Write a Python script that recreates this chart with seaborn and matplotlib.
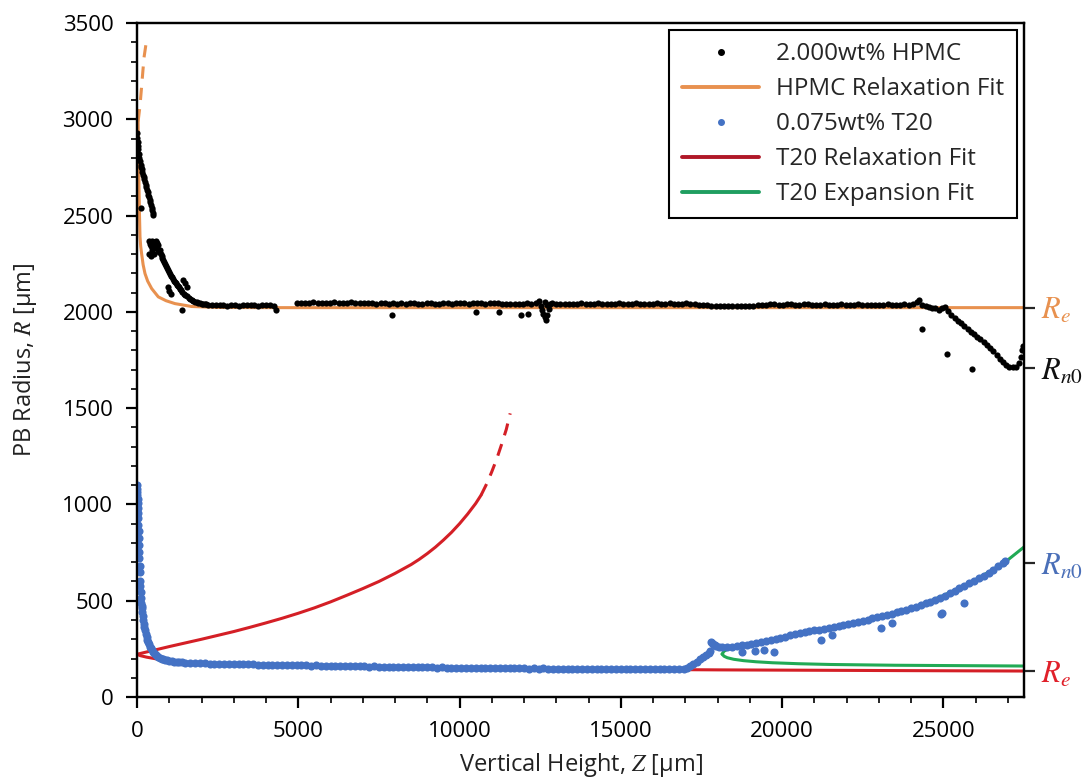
import matplotlib
matplotlib.use("Agg")
import matplotlib.pyplot as plt
from matplotlib.lines import Line2D
from matplotlib.ticker import MultipleLocator
import seaborn as sns

# ---------------- data ----------------
# 2.000wt% HPMC measured radius (z in um, R in um)
hpmc_z = [0, 10, 20, 30, 45, 60, 75, 90, 110, 130, 150, 170, 190, 210, 230, 250, 270, 290, 310, 330,
          350, 370, 390, 410, 430, 450, 470, 490, 510, 120,
          360, 380, 400, 420, 440, 460, 480, 500, 520, 540, 560, 580, 600, 620, 640, 660, 680, 700,
          730, 760, 790, 820, 850, 880, 910, 940, 970, 1000, 1030, 1060, 1090, 1120, 1150, 1180,
          1210, 1240, 1270, 1300, 1330, 1360, 1400, 1450, 1500, 1550, 1600, 1650, 1700, 1750, 1800,
          1850, 1900, 1950, 2000, 2050, 2100, 2150,
          960, 1000, 1060, 1390, 1420, 1540, 1500,
          2200, 2320, 2440, 2560, 2680, 2800, 2920, 3040, 3160, 3280, 3400, 3520, 3640, 3760, 3880,
          4000, 4120, 4240, 4320,
          4950, 5080, 5210, 5340, 5470, 5600, 5730, 5860, 5990, 6120, 6250, 6380, 6510, 6640, 6770,
          6900, 7030, 7160, 7290, 7420, 7550, 7680, 7810, 7900, 7940, 8070, 8200, 8330, 8460, 8590,
          8720, 8850, 8980, 9110, 9240, 9370, 9500, 9630, 9760, 9890, 10020, 10150, 10280, 10410,
          10520, 10540, 10670, 10800, 10930, 11060, 11190, 11220, 11320, 11450, 11580, 11710, 11840,
          11910, 11970, 12120, 12100, 12230, 12360, 12450, 12520, 12560, 12600, 12640, 12680, 12720,
          12760, 12800, 12650, 12700, 12880, 13000, 13130, 13260, 13390, 13520, 13650, 13780, 13910,
          14040, 14170, 14300, 14430, 14560, 14690, 14820, 14950, 15080, 15210, 15340, 15470, 15600,
          15730, 15860, 15990, 16120, 16250, 16380, 16510, 16640, 16770, 16900, 17030, 17160, 17290,
          17420, 17550, 17680, 17810, 17940, 18070, 18200, 18330, 18460, 18590, 18720, 18850, 18980,
          19110, 19240, 19370, 19500, 19630, 19760, 19890, 20020, 20150, 20280, 20410, 20540, 20670,
          20800, 20930, 21060, 21190, 21320, 21450, 21580, 21710, 21840, 21970, 22100, 22230, 22360,
          22490, 22620, 22750, 22880, 23010, 23140, 23270, 23400, 23530, 23660, 23790, 23920, 24050,
          24180, 24260, 24330, 24350, 24450, 24550, 24650, 24750, 24850, 24950, 25050, 25150, 25110,
          25250, 25350, 25450, 25550, 25650, 25750, 25850, 25880, 25950, 26050, 26150, 26250, 26350,
          26450, 26550, 26650, 26750, 26850, 26950, 27050, 27150, 27250, 27330, 27400, 27450, 27480]
hpmc_r = [2930, 2905, 2880, 2860, 2845, 2820, 2800, 2785, 2765, 2750, 2740, 2725, 2712, 2700, 2688,
          2675, 2660, 2648, 2635, 2620, 2608, 2595, 2580, 2568, 2555, 2540, 2528, 2515, 2503, 2540,
          2370, 2300, 2355, 2290, 2340, 2370, 2320, 2350, 2300, 2365, 2340, 2370, 2330, 2360, 2320,
          2345, 2310, 2320, 2300, 2290, 2280, 2268, 2258, 2248, 2238, 2228, 2218, 2208, 2198, 2188,
          2180, 2170, 2162, 2155, 2148, 2140, 2135, 2128, 2120, 2112, 2104, 2095, 2088, 2080, 2074,
          2068, 2062, 2057, 2053, 2050, 2047, 2045, 2043, 2041, 2040, 2039,
          2130, 2110, 2095, 2010, 2165, 2130, 2150,
          2038, 2036, 2034, 2037, 2035, 2033, 2036, 2034, 2032, 2035, 2037, 2034, 2036, 2033, 2035,
          2038, 2034, 2031, 2012,
          2046, 2048, 2045, 2047, 2049, 2046, 2048, 2045, 2047, 2049, 2046, 2044, 2047, 2049, 2046,
          2044, 2046, 2048, 2045, 2043, 2046, 2044, 2042, 1985, 2045, 2043, 2045, 2042, 2044, 2046,
          2043, 2041, 2044, 2046, 2043, 2041, 2044, 2046, 2043, 2045, 2047, 2044, 2042, 2045,
          2000, 2047, 2044, 2042, 2045, 2047, 2044, 2000, 2042, 2040, 2043, 2041, 2039,
          1986, 2042, 1991, 2044, 2040, 2046, 2055, 2030, 2010, 1990, 1975, 1960, 1985,
          2015, 2040, 2050, 2035, 2045, 2042, 2040, 2043, 2041, 2039, 2042, 2044, 2041,
          2039, 2042, 2044, 2041, 2043, 2040, 2042, 2044, 2041, 2039, 2042, 2044, 2041,
          2043, 2040, 2042, 2044, 2041, 2043, 2045, 2042, 2040, 2043, 2045, 2042, 2040,
          2038, 2036, 2034, 2032, 2031, 2030, 2031, 2029, 2030, 2028, 2030, 2029, 2031,
          2033, 2035, 2038, 2037, 2039, 2041, 2038, 2036, 2039, 2041, 2038, 2036, 2039,
          2041, 2038, 2036, 2038, 2040, 2037, 2035, 2038, 2040, 2037, 2035, 2038, 2040,
          2037, 2035, 2038, 2036, 2034, 2037, 2039, 2036, 2034, 2037, 2039, 2036, 2040,
          2050, 2060, 1910, 2035, 2030, 2026, 2022, 2018, 2010, 2020, 2025, 2005, 1780,
          1985, 1968, 1955, 1942, 1928, 1912, 1898, 1703, 1885, 1870, 1858, 1845, 1830,
          1813, 1795, 1775, 1755, 1738, 1722, 1714, 1712, 1716, 1735, 1765, 1800, 1825]

# 0.075wt% T20 measured radius
t20_z = [0, 5, 10, 15, 20, 25, 30, 35, 40, 45, 50, 55, 60, 65, 70, 80, 85, 95, 100, 110, 120, 130,
         140, 150, 165, 180, 195, 215, 230, 250, 275, 300, 325, 350, 375, 400, 425, 455, 485, 520,
         555, 590, 625, 660, 710, 760, 815, 870, 935, 1000, 1075, 1150, 1225, 1300, 1400, 1490,
         1650, 1800, 1950, 2100, 2250, 2400, 2550, 2700, 2850, 3000, 3150, 3300, 3450, 3600, 3750,
         3900, 4050, 4200, 4350, 4500, 4650, 4800, 4950, 5100, 5250, 5400, 5550, 5700, 5850, 6000,
         6150, 6300, 6450, 6600, 6750, 6900, 7050, 7200, 7350, 7500, 7650, 7800, 7950, 8100, 8250,
         8400, 8550, 8700, 8850, 9000, 9150, 9300, 9450, 9600, 9750, 9900, 10050, 10200, 10350,
         10500, 10650, 10800, 10950, 11100, 11250, 11400, 11550, 11700, 11850, 12000, 12150, 12300,
         12450, 12600, 12750, 12900, 13050, 13200, 13350, 13500, 13650, 13800, 13950, 14100, 14250,
         14400, 14550, 14700, 14850, 15000, 15150, 15300, 15450, 15600, 15750, 15900, 16050, 16200,
         16350, 16500, 16650, 16800, 16950,
         17050, 17150, 17250, 17350, 17450, 17550, 17650, 17720, 17760, 17790, 17830, 17870, 17910,
         17960, 18050, 18150, 18300, 18450, 18600, 18750, 18900, 19050, 19200, 19350, 19500, 19650,
         19800, 19950, 20100, 20250, 20400, 20550, 20700, 20850, 21000, 21150, 21300, 21450, 21600,
         21750, 21900, 22050, 22200, 22350, 22500, 22650, 22800, 22950, 23100, 23250, 23400, 23550,
         23700, 23850, 24000, 24150, 24300, 24450, 24600, 24750, 24900, 25050, 25200, 25350, 25500,
         25650, 25800, 25950, 26100, 26250, 26400, 26550, 26700, 26850, 26920,
         18760, 19160, 19440, 19750, 21210, 21550, 23070, 23410, 24920, 24950, 25640]
t20_r = [1100, 1080, 1065, 1050, 1030, 1005, 980, 955, 930, 895, 860, 825, 790, 755, 720, 680, 650,
         605, 575, 545, 515, 490, 475, 460, 440, 420, 400, 380, 365, 348, 328, 310, 297, 285, 273,
         262, 253, 244, 236, 228, 222, 216, 212, 209, 204, 200, 196, 192, 190, 188, 186, 184, 182,
         181, 180, 178,
         177, 176, 175, 175, 174, 173, 173, 172, 171, 171, 170, 170, 169, 169, 168, 168, 167, 168,
         166, 167, 165, 166, 165, 164, 165, 163, 164, 162, 163, 162, 161, 162, 160, 161, 160, 159,
         160, 158, 159, 158, 157, 158, 156, 157, 156, 155, 156, 155, 154, 155, 154, 153, 154, 153,
         152, 153, 152, 151, 152, 151, 150, 151, 150, 151, 150, 149, 150, 149, 150, 149, 148, 149,
         148, 149, 148, 147, 148, 147, 148, 147, 146, 147, 146, 147, 146, 145, 146, 145, 146, 145,
         146, 145, 144, 145, 144, 145, 144, 145, 144, 143, 144, 143, 144,
         150, 160, 172, 184, 196, 207, 218, 228, 238, 285, 280, 274, 270, 266, 262, 260, 261, 262,
         265, 268, 272, 276, 281, 286, 291, 296, 302, 308, 314, 320, 326, 331, 336, 341, 346, 350,
         355, 359, 363, 368, 373, 378, 384, 390, 396, 402, 408, 414, 420, 426, 432, 439, 446, 453,
         460, 468, 477, 486, 495, 505, 515, 527, 540, 553, 566, 578, 590, 602, 616, 630, 644, 660,
         678, 698, 708,
         234, 239, 244, 234, 296, 322, 358, 384, 431, 436, 488]

# HPMC relaxation fit (solid branch and dashed extrapolation)
hpmc_fit_z = [35, 45, 62, 78, 93, 115, 145, 190, 248, 330, 455, 660, 900, 1176, 1693, 2500, 4000, 27500]
hpmc_fit_r = [2990, 2850, 2650, 2500, 2390, 2340, 2300, 2245, 2199, 2160, 2121, 2078, 2058, 2043,
              2028, 2023, 2022, 2022]
hpmc_ext_z = [35, 93, 145, 217, 300, 325]
hpmc_ext_r = [2990, 3070, 3175, 3320, 3415, 3430]

# T20 relaxation fit: lower branch, upper branch (solid) and dashed extrapolation
t20_rel_lo_z = [0, 100, 300, 600, 900, 1500, 2500, 4000, 6000, 9000, 12000, 15000, 18000, 21000,
                24000, 27500]
t20_rel_lo_r = [222, 215, 207, 198, 190, 180, 170, 163, 157, 151, 147, 144, 141, 139, 137, 135]
t20_rel_up_z = [0, 500, 1000, 1500, 2000, 2500, 3000, 3500, 4000, 4500, 5000, 5500, 6000, 6500,
                7000, 7500, 8000, 8500, 8750, 9000, 9250, 9500, 9750, 10000, 10250, 10500, 10670]
t20_rel_up_r = [222, 242, 262, 281, 300, 320, 340, 362, 385, 409, 435, 463, 494, 528, 563, 600, 642,
                688, 715, 745, 778, 815, 855, 900, 950, 1005, 1049]
t20_rel_ext_z = [10670, 10850, 11000, 11150, 11300, 11450, 11570]
t20_rel_ext_r = [1049, 1110, 1170, 1235, 1310, 1390, 1473]

# T20 expansion fit (both branches from the nose)
t20_exp_up_z = [18140, 18200, 18350, 18600, 19000, 19500, 20000, 20500, 21000, 21500, 22000, 22500,
                23000, 23500, 24000, 24500, 25000, 25500, 26000, 26500, 27000, 27500]
t20_exp_up_r = [223, 238, 252, 262, 272, 288, 305, 325, 342, 358, 375, 395, 415, 437, 462, 492, 527,
                567, 610, 658, 712, 779]
t20_exp_lo_z = [18140, 18200, 18300, 18500, 18800, 19200, 19700, 20500, 21500, 22500, 23500, 24500,
                25500, 26500, 27500]
t20_exp_lo_r = [223, 212, 204, 196, 189, 183, 178, 173, 169, 167, 165, 164, 163, 162, 161]

# right-hand markers
right_tick_vals = [2022, 1708, 696, 135]
right_tick_labels = [r"$R_e$", r"$R_{n0}$", r"$R_{n0}$", r"$R_e$"]
right_tick_colors = ["#E8914F", "#111111", "#4A6FB8", "#E0202A"]

legend_labels = ["2.000wt% HPMC", "HPMC Relaxation Fit", "0.075wt% T20",
                 "T20 Relaxation Fit", "T20 Expansion Fit"]

# ---------------- style ----------------
C_ORANGE = "#E8914F"
C_BLUE = "#4472C4"
C_RED = "#D41F26"
C_GREEN = "#21AA55"

sns.set_theme(style="ticks")
plt.rcParams["font.family"] = ["Open Sans", "DejaVu Sans"]
plt.rcParams["mathtext.fontset"] = "stix"

fig, ax = plt.subplots(figsize=(10.89, 7.83), dpi=100)
fig.subplots_adjust(left=0.1258, right=0.9403, bottom=0.1098, top=0.9706)

LW = 2.2
dash = (0, (4, 3))
common = dict(sort=False, estimator=None, legend=False, ax=ax)

sns.lineplot(x=hpmc_fit_z, y=hpmc_fit_r, color=C_ORANGE, lw=LW, **common)
sns.lineplot(x=hpmc_ext_z, y=hpmc_ext_r, color=C_ORANGE, lw=LW, linestyle=dash, **common)
sns.lineplot(x=t20_rel_lo_z, y=t20_rel_lo_r, color=C_RED, lw=LW, **common)
sns.lineplot(x=t20_rel_up_z, y=t20_rel_up_r, color=C_RED, lw=LW, **common)
sns.lineplot(x=t20_rel_ext_z, y=t20_rel_ext_r, color=C_RED, lw=LW, linestyle=dash, **common)
sns.lineplot(x=t20_exp_up_z, y=t20_exp_up_r, color=C_GREEN, lw=LW, **common)
sns.lineplot(x=t20_exp_lo_z, y=t20_exp_lo_r, color=C_GREEN, lw=LW, **common)

sns.scatterplot(x=hpmc_z, y=hpmc_r, color="black", s=20, linewidth=0, legend=False, ax=ax, zorder=3)
sns.scatterplot(x=t20_z, y=t20_r, color=C_BLUE, s=34, linewidth=0, legend=False, ax=ax, zorder=3)

ax.set_xlim(0, 27500)
ax.set_ylim(0, 3500)
ax.xaxis.set_major_locator(MultipleLocator(5000))
ax.xaxis.set_minor_locator(MultipleLocator(1000))
ax.yaxis.set_major_locator(MultipleLocator(500))
ax.yaxis.set_minor_locator(MultipleLocator(100))
ax.tick_params(which="major", direction="out", length=8, width=1.6, labelsize=16, pad=9,
               colors="black", top=False, right=False)
ax.tick_params(which="minor", direction="out", length=4.5, width=1.4, top=False, right=False)
for sp in ax.spines.values():
    sp.set_visible(True)
    sp.set_linewidth(1.6)
    sp.set_color("black")

ax.set_xlabel("Vertical Height, $Z$ [µm]", fontsize=17, color="#222222", labelpad=7)
ax.set_ylabel("PB Radius, $R$ [µm]", fontsize=17, color="#222222", labelpad=17)

# right-side reference ticks
ax2 = ax.twinx()
ax2.set_ylim(ax.get_ylim())
ax2.set_yticks(right_tick_vals)
ax2.set_yticklabels(right_tick_labels)
ax2.yaxis.set_minor_locator(plt.NullLocator())
ax2.tick_params(axis="y", direction="out", length=8, width=1.6, pad=4, labelsize=22)
for tl, c in zip(ax2.get_yticklabels(), right_tick_colors):
    tl.set_color(c)
for sp in ax2.spines.values():
    sp.set_linewidth(1.6)
    sp.set_color("black")

handles = [
    Line2D([], [], ls="none", marker="o", ms=4, color="black"),
    Line2D([], [], color=C_ORANGE, lw=2.8),
    Line2D([], [], ls="none", marker="o", ms=4, color=C_BLUE),
    Line2D([], [], color="#B01828", lw=2.8),
    Line2D([], [], color="#1F9E60", lw=2.8),
]
leg = ax2.legend(handles, legend_labels, loc="upper right", fontsize=17.5, frameon=True,
                 fancybox=False, edgecolor="black", framealpha=1, borderaxespad=0.3,
                 handlelength=3.2, handletextpad=0.7, labelspacing=0.45, borderpad=0.5)
leg.get_frame().set_linewidth(1.5)

fig.savefig("out.png", dpi=100, facecolor="white")
